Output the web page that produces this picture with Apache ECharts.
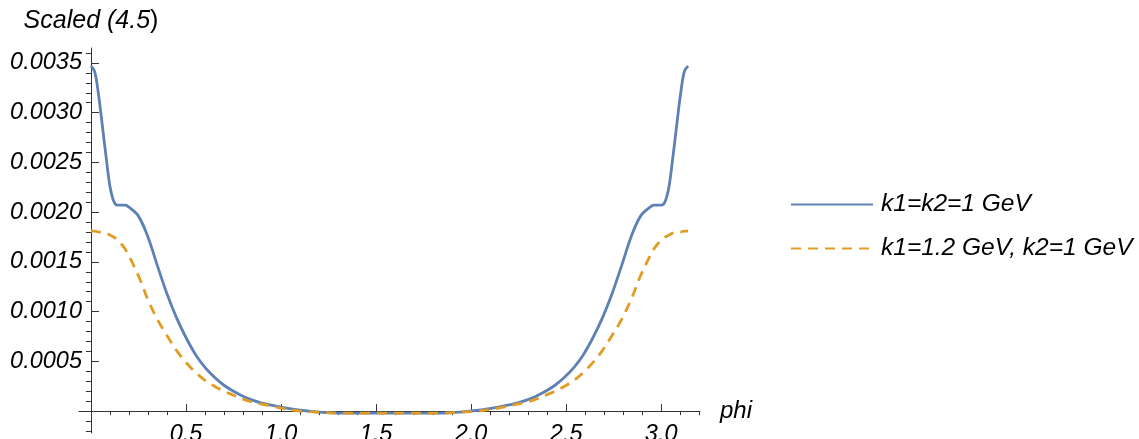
<!DOCTYPE html>
<html>
<head>
<meta charset="utf-8">
<script src="https://cdn.jsdelivr.net/npm/echarts@6/dist/echarts.min.js"></script>
<style>html,body{margin:0;padding:0;background:#fff}#c{width:1139px;height:439px}</style>
</head>
<body>
<div id="c"></div>
<script>
const phi = [0, 0.02, 0.04, 0.06, 0.08, 0.10, 0.12, 0.14, 0.16, 0.18, 0.20, 0.25, 0.30, 0.35, 0.40, 0.45, 0.50, 0.55, 0.60, 0.65, 0.70, 0.75, 0.80, 0.85, 0.90, 0.95, 1.00, 1.10, 1.20, 1.30, 1.40, 1.50,
  1.5708,
  1.6416, 1.7416, 1.8416, 1.9416, 2.0416, 2.1416, 2.1916, 2.2416, 2.2916, 2.3416, 2.3916, 2.4416, 2.4916, 2.5416, 2.5916, 2.6416, 2.6916, 2.7416, 2.7916, 2.8416, 2.8916, 2.9416, 2.9616, 2.9816, 3.0016, 3.0216, 3.0416, 3.0616, 3.0816, 3.1016, 3.1216, 3.1416];

const seriesBlue = [0.00347, 0.00341, 0.00318, 0.00287, 0.00255, 0.00226, 0.00211, 0.00207, 0.00207, 0.00207, 0.00205, 0.00196, 0.00175, 0.00146, 0.00118, 0.00094, 0.00074, 0.00057, 0.00044, 0.00034, 0.00026, 0.00020, 0.00015, 0.00011, 0.00008, 0.00006, 0.00004, 0.00001, -0.00001, -0.00002, -0.00002, -0.00002,
  -0.00002,
  -0.00002, -0.00002, -0.00002, -0.00001, 0.00001, 0.00004, 0.00006, 0.00008, 0.00011, 0.00015, 0.00020, 0.00026, 0.00034, 0.00044, 0.00057, 0.00074, 0.00094, 0.00118, 0.00146, 0.00175, 0.00196, 0.00205, 0.00207, 0.00207, 0.00207, 0.00211, 0.00226, 0.00255, 0.00287, 0.00318, 0.00341, 0.00347];

const seriesOrange = [0.00181, 0.00181, 0.00180, 0.00180, 0.00179, 0.00177, 0.00175, 0.00172, 0.00168, 0.00163, 0.00156, 0.00136, 0.00112, 0.00092, 0.00076, 0.00061, 0.00049, 0.00039, 0.00031, 0.00025, 0.00020, 0.00016, 0.00012, 0.00009, 0.00007, 0.00005, 0.00003, 0.00000, -0.00001, -0.00002, -0.00002, -0.00002,
  -0.00002,
  -0.00002, -0.00002, -0.00002, -0.00001, 0.00000, 0.00003, 0.00005, 0.00007, 0.00009, 0.00012, 0.00016, 0.00020, 0.00025, 0.00031, 0.00039, 0.00049, 0.00061, 0.00076, 0.00092, 0.00112, 0.00136, 0.00156, 0.00163, 0.00168, 0.00172, 0.00175, 0.00177, 0.00179, 0.00180, 0.00180, 0.00181, 0.00181];

const seriesNames = ['k1=k2=1 GeV', 'k1=1.2 GeV, k2=1 GeV'];
const xMajorTicks = [0.5, 1.0, 1.5, 2.0, 2.5, 3.0];
const xMinorTicks = [0.1, 0.2, 0.3, 0.4, 0.6, 0.7, 0.8, 0.9, 1.1, 1.2, 1.3, 1.4, 1.6, 1.7, 1.8, 1.9, 2.1, 2.2, 2.3, 2.4, 2.6, 2.7, 2.8, 2.9, 3.1, 3.2];
const yMajorTicks = [0.0005, 0.0010, 0.0015, 0.0020, 0.0025, 0.0030, 0.0035];
const yMinorTicks = [-0.0002, -0.0001, 0.0001, 0.0002, 0.0003, 0.0004, 0.0006, 0.0007, 0.0008, 0.0009, 0.0011, 0.0012, 0.0013, 0.0014, 0.0016, 0.0017, 0.0018, 0.0019, 0.0021, 0.0022, 0.0023, 0.0024, 0.0026, 0.0027, 0.0028, 0.0029, 0.0031, 0.0032, 0.0033, 0.0034, 0.0036];
const xLabel = 'phi';
const yLabel = 'Scaled (4.5';

const X_MIN = -0.0628, X_MAX = 3.2044, Y_MIN = -0.00022, Y_MAX = 0.00365;
const FONT = 'Liberation Sans';
const AX = '#333';
const noLine = {show: false, onZero: false};

const chart = echarts.init(document.getElementById('c'), null, {renderer: 'canvas'});
chart.setOption({
  animation: false,
  backgroundColor: '#fff',
  grid: [
    {left: 79, width: 621, top: 48, height: 385, containLabel: false, outerBoundsMode: 'none'},
    {left: 91, width: 609, top: 48, height: 363, containLabel: false, outerBoundsMode: 'none'}
  ],
  legend: {
    orient: 'vertical', left: 785, top: 187, itemWidth: 82, itemHeight: 14, itemGap: 19,
    itemStyle: {opacity: 0},
    textStyle: {fontFamily: FONT, fontStyle: 'italic', fontSize: 24.5, color: '#000', padding: [0, 0, 0, 3]},
    data: seriesNames
  },
  xAxis: [{
    type: 'value', min: X_MIN, max: X_MAX, gridIndex: 0,
    axisLine: {onZero: true, onZeroAxisIndex: 0, lineStyle: {color: AX, width: 1}},
    axisTick: {show: true, inside: true, length: 7, customValues: xMajorTicks, lineStyle: {color: AX}},
    axisLabel: {show: false},
    splitLine: {show: false}
  }, {
    type: 'value', min: X_MIN, max: X_MAX, gridIndex: 0,
    axisLine: {show: false, onZero: true, onZeroAxisIndex: 1},
    axisTick: {show: true, inside: true, length: 4, customValues: xMinorTicks, lineStyle: {color: AX}},
    axisLabel: {show: false},
    splitLine: {show: false}
  }, {
    type: 'value', min: 0, max: X_MAX, gridIndex: 1, position: 'bottom',
    axisLine: noLine, axisTick: {show: false},
    axisLabel: {customValues: xMajorTicks, margin: 12, fontFamily: FONT, fontStyle: 'italic', fontSize: 23.5, color: '#000', formatter: v => v.toFixed(1)},
    splitLine: {show: false},
    name: xLabel, nameLocation: 'end', nameGap: 20,
    nameTextStyle: {fontFamily: FONT, fontStyle: 'italic', fontSize: 24, color: '#000'}
  }],
  yAxis: [{
    type: 'value', min: Y_MIN, max: Y_MAX, gridIndex: 0,
    axisLine: {show: true, onZero: true, onZeroAxisIndex: 0, lineStyle: {color: AX, width: 1}},
    axisTick: {show: true, inside: true, length: 8, customValues: yMajorTicks, lineStyle: {color: AX}},
    axisLabel: {show: false},
    splitLine: {show: false}
  }, {
    type: 'value', min: Y_MIN, max: Y_MAX, gridIndex: 0,
    axisLine: {show: false, onZero: true, onZeroAxisIndex: 1},
    axisTick: {show: true, inside: true, length: 5, customValues: yMinorTicks, lineStyle: {color: AX}},
    axisLabel: {show: false},
    splitLine: {show: false}
  }, {
    type: 'value', min: 0, max: Y_MAX, gridIndex: 1, position: 'left',
    axisLine: noLine, axisTick: {show: false},
    axisLabel: {customValues: yMajorTicks, margin: 9, fontFamily: FONT, fontStyle: 'italic', fontSize: 23.5, color: '#000', formatter: v => v.toFixed(4)},
    splitLine: {show: false},
    name: '{i|' + yLabel + '}{n|)}', nameLocation: 'end', nameGap: 14,
    nameTextStyle: {
      align: 'center',
      rich: {
        i: {fontFamily: FONT, fontStyle: 'italic', fontSize: 25, color: '#000'},
        n: {fontFamily: FONT, fontSize: 25, color: '#000'}
      }
    }
  }],
  series: [{
    name: seriesNames[0], type: 'line', xAxisIndex: 0, yAxisIndex: 0,
    data: phi.map((p, i) => [p, seriesBlue[i]]),
    smooth: 0.35, symbol: 'none', z: 3,
    lineStyle: {color: '#5E81B5', width: 2.8},
    itemStyle: {color: '#5E81B5'}
  }, {
    name: seriesNames[1], type: 'line', xAxisIndex: 0, yAxisIndex: 0,
    data: phi.map((p, i) => [p, seriesOrange[i]]),
    smooth: 0.35, symbol: 'none', z: 4,
    lineStyle: {color: '#E19C24', width: 2.8, type: [10, 7]},
    itemStyle: {color: '#E19C24'}
  }]
});
</script>
</body>
</html>
